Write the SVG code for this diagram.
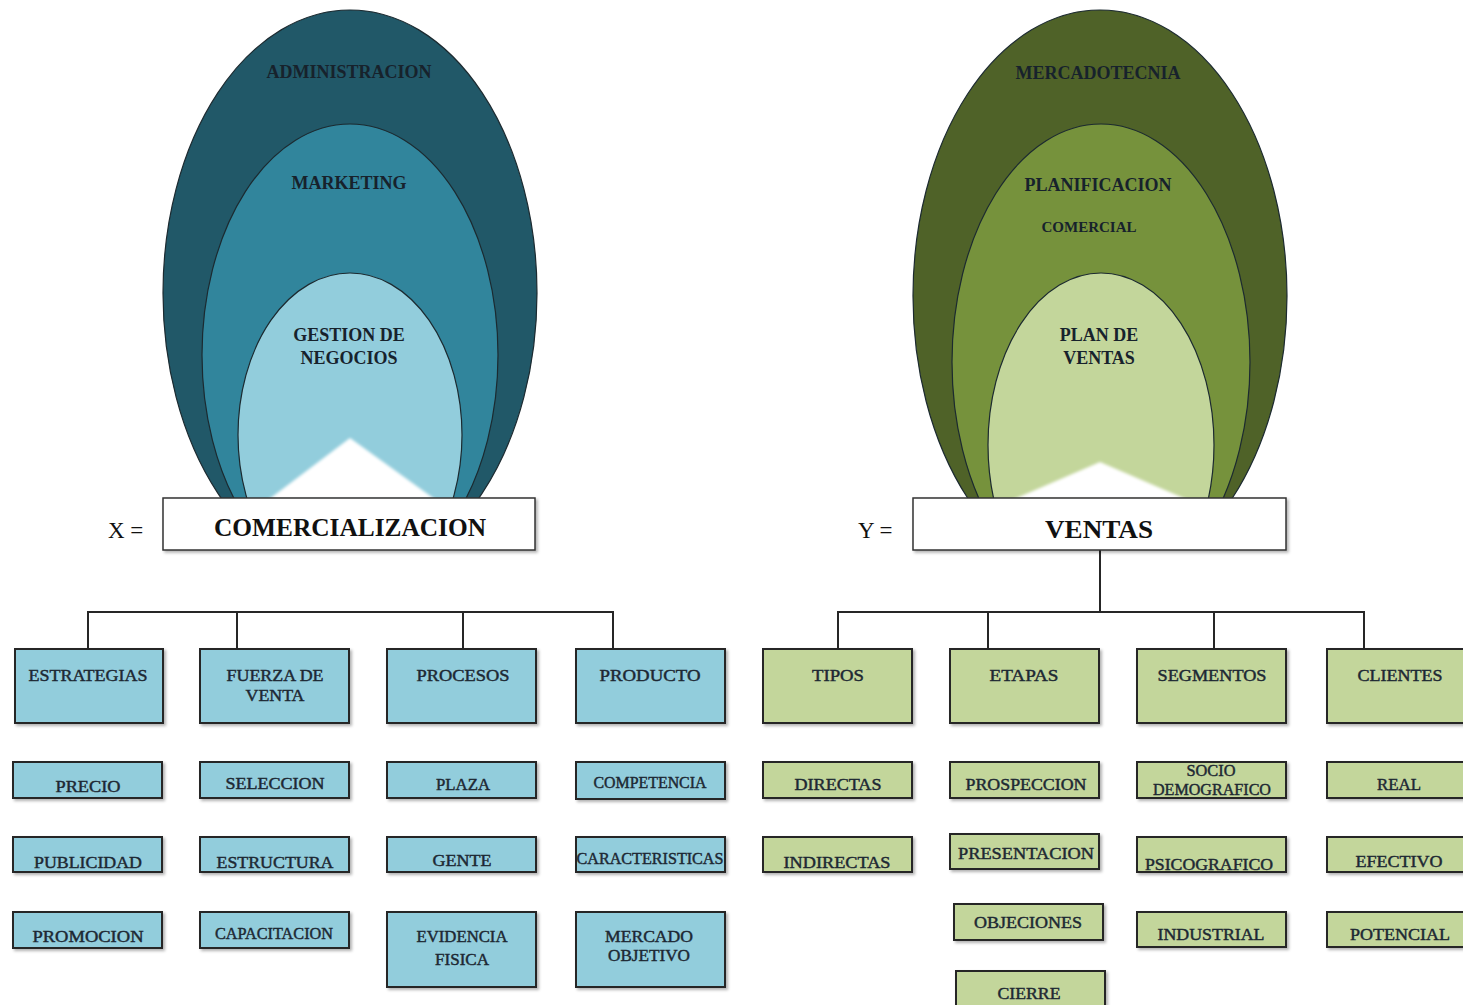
<svg xmlns="http://www.w3.org/2000/svg" width="1463" height="1005" viewBox="0 0 1463 1005">
  <defs>
    <style>
      .lb { font-family: "Liberation Serif", serif; font-size: 17px; fill: #1d2833; stroke: #1d2833; stroke-width: 0.45; text-anchor: middle; }
      .ov { font-family: "Liberation Serif", serif; font-size: 18px; font-weight: bold; fill: #17222c; text-anchor: middle; }
      .main { font-family: "Liberation Serif", serif; font-size: 25px; font-weight: bold; fill: #111; text-anchor: middle; }
      .eq { font-family: "Liberation Serif", serif; font-size: 23px; fill: #111; }
      .bb { fill: #92cddc; stroke: #262626; stroke-width: 2; filter: url(#sh); }
      .bg { fill: #c3d69b; stroke: #262626; stroke-width: 2; filter: url(#sh); }
      .bw { fill: #ffffff; stroke: #333; stroke-width: 1.5; filter: url(#sh); }
      .el { stroke: #1c2a30; stroke-width: 1.2; }
      .cn { fill: none; stroke: #262626; stroke-width: 2; }
    </style>
    <filter id="sh" x="-10%" y="-20%" width="130%" height="150%">
      <feDropShadow dx="2" dy="2" stdDeviation="1.5" flood-color="#000" flood-opacity="0.3"/>
    </filter>
    <filter id="soft" x="-20%" y="-20%" width="140%" height="140%">
      <feGaussianBlur stdDeviation="1.5"/>
    </filter>
    <clipPath id="clipL"><rect x="0" y="0" width="730" height="499"/></clipPath>
    <clipPath id="clipR"><rect x="730" y="0" width="733" height="499"/></clipPath>
  </defs>

  <rect width="1463" height="1005" fill="#ffffff"/>

  <!-- Left nested ovals -->
  <g id="ovals-x" clip-path="url(#clipL)">
    <ellipse class="el" cx="350" cy="293" rx="187" ry="283" fill="#215868"/>
    <ellipse class="el" cx="350" cy="355" rx="148" ry="231" fill="#31859c"/>
    <ellipse class="el" cx="350" cy="435" rx="112" ry="162" fill="#92cddc"/>
    <polygon points="268,500 350,438 436,500" fill="#ffffff" filter="url(#soft)"/>
    <text class="ov" x="349" y="78">ADMINISTRACION</text>
    <text class="ov" x="349" y="189">MARKETING</text>
    <text class="ov" x="349" y="341">GESTION DE</text>
    <text class="ov" x="349" y="364">NEGOCIOS</text>
  </g>

  <!-- Right nested ovals -->
  <g id="ovals-y" clip-path="url(#clipR)">
    <ellipse class="el" cx="1100" cy="296" rx="187" ry="286" fill="#4f6228"/>
    <ellipse class="el" cx="1101" cy="362" rx="149" ry="238" fill="#76923c"/>
    <ellipse class="el" cx="1101" cy="445" rx="113" ry="172" fill="#c3d69b"/>
    <polygon points="1012,500 1100,462 1188,500" fill="#ffffff" filter="url(#soft)"/>
    <text class="ov" x="1098" y="79">MERCADOTECNIA</text>
    <text class="ov" x="1098" y="191">PLANIFICACION</text>
    <text class="ov" x="1089" y="232" style="font-size:15px">COMERCIAL</text>
    <text class="ov" x="1099" y="341">PLAN DE</text>
    <text class="ov" x="1099" y="364">VENTAS</text>
  </g>

  <!-- Connectors -->
  <g id="connectors">
    <path class="cn" d="M88,648 V612 H613 V648 M237,612 V648 M463,612 V648"/>
    <path class="cn" d="M1100,550 V612 M838,648 V612 H1364 V648 M988,612 V648 M1214,612 V648"/>
  </g>

  <!-- Main boxes -->
  <g id="comercializacion">
    <text class="eq" x="108" y="538">X =</text>
    <rect class="bw" x="163" y="498" width="372" height="52"/>
    <text class="main" x="350" y="536" textLength="272" lengthAdjust="spacingAndGlyphs">COMERCIALIZACION</text>
  </g>
  <g id="ventas">
    <text class="eq" x="858" y="538">Y =</text>
    <rect class="bw" x="913" y="498" width="373" height="52"/>
    <text class="main" x="1099" y="538" textLength="108" lengthAdjust="spacingAndGlyphs">VENTAS</text>
  </g>

  <!-- Left branch -->
  <g id="estrategias"><rect class="bb" x="15" y="649" width="148" height="74"/><text class="lb" x="88" y="681" textLength="119" lengthAdjust="spacingAndGlyphs">ESTRATEGIAS</text></g>
  <g id="fuerza-de-venta"><rect class="bb" x="200" y="649" width="149" height="74"/><text class="lb" x="275" y="681" textLength="97" lengthAdjust="spacingAndGlyphs">FUERZA DE</text><text class="lb" x="275" y="701" textLength="59" lengthAdjust="spacingAndGlyphs">VENTA</text></g>
  <g id="procesos"><rect class="bb" x="387" y="649" width="149" height="74"/><text class="lb" x="463" y="681" textLength="93" lengthAdjust="spacingAndGlyphs">PROCESOS</text></g>
  <g id="producto"><rect class="bb" x="576" y="649" width="149" height="74"/><text class="lb" x="650" y="681" textLength="101" lengthAdjust="spacingAndGlyphs">PRODUCTO</text></g>

  <g id="precio"><rect class="bb" x="13" y="762" width="149" height="36"/><text class="lb" x="88" y="792" textLength="65" lengthAdjust="spacingAndGlyphs">PRECIO</text></g>
  <g id="seleccion"><rect class="bb" x="200" y="762" width="149" height="36"/><text class="lb" x="275" y="789" textLength="99" lengthAdjust="spacingAndGlyphs">SELECCION</text></g>
  <g id="plaza"><rect class="bb" x="387" y="762" width="149" height="36"/><text class="lb" x="463" y="790" textLength="54" lengthAdjust="spacingAndGlyphs">PLAZA</text></g>
  <g id="competencia"><rect class="bb" x="576" y="762" width="149" height="37"/><text class="lb" x="650" y="788" textLength="113" lengthAdjust="spacingAndGlyphs">COMPETENCIA</text></g>

  <g id="publicidad"><rect class="bb" x="13" y="837" width="149" height="35"/><text class="lb" x="88" y="868" textLength="108" lengthAdjust="spacingAndGlyphs">PUBLICIDAD</text></g>
  <g id="estructura"><rect class="bb" x="200" y="837" width="149" height="35"/><text class="lb" x="275" y="868" textLength="117" lengthAdjust="spacingAndGlyphs">ESTRUCTURA</text></g>
  <g id="gente"><rect class="bb" x="387" y="837" width="149" height="35"/><text class="lb" x="462" y="866" textLength="59" lengthAdjust="spacingAndGlyphs">GENTE</text></g>
  <g id="caracteristicas"><rect class="bb" x="576" y="837" width="149" height="35"/><text class="lb" x="650" y="864" textLength="147" lengthAdjust="spacingAndGlyphs">CARACTERISTICAS</text></g>

  <g id="promocion"><rect class="bb" x="13" y="912" width="149" height="36"/><text class="lb" x="88" y="942" textLength="111" lengthAdjust="spacingAndGlyphs">PROMOCION</text></g>
  <g id="capacitacion"><rect class="bb" x="200" y="912" width="149" height="36"/><text class="lb" x="274" y="939" textLength="118" lengthAdjust="spacingAndGlyphs">CAPACITACION</text></g>
  <g id="evidencia-fisica"><rect class="bb" x="387" y="912" width="149" height="75"/><text class="lb" x="462" y="942" textLength="91" lengthAdjust="spacingAndGlyphs">EVIDENCIA</text><text class="lb" x="462" y="965" textLength="54" lengthAdjust="spacingAndGlyphs">FISICA</text></g>
  <g id="mercado-objetivo"><rect class="bb" x="576" y="912" width="149" height="75"/><text class="lb" x="649" y="942" textLength="88" lengthAdjust="spacingAndGlyphs">MERCADO</text><text class="lb" x="649" y="961" textLength="82" lengthAdjust="spacingAndGlyphs">OBJETIVO</text></g>

  <!-- Right branch -->
  <g id="tipos"><rect class="bg" x="763" y="649" width="149" height="74"/><text class="lb" x="838" y="681" textLength="52" lengthAdjust="spacingAndGlyphs">TIPOS</text></g>
  <g id="etapas"><rect class="bg" x="950" y="649" width="149" height="74"/><text class="lb" x="1024" y="681" textLength="69" lengthAdjust="spacingAndGlyphs">ETAPAS</text></g>
  <g id="segmentos"><rect class="bg" x="1137" y="649" width="149" height="74"/><text class="lb" x="1212" y="681" textLength="109" lengthAdjust="spacingAndGlyphs">SEGMENTOS</text></g>
  <g id="clientes"><rect class="bg" x="1327" y="649" width="149" height="74"/><text class="lb" x="1400" y="681" textLength="85" lengthAdjust="spacingAndGlyphs">CLIENTES</text></g>

  <g id="directas"><rect class="bg" x="763" y="762" width="149" height="36"/><text class="lb" x="838" y="790" textLength="87" lengthAdjust="spacingAndGlyphs">DIRECTAS</text></g>
  <g id="prospeccion"><rect class="bg" x="950" y="762" width="149" height="36"/><text class="lb" x="1026" y="790" textLength="121" lengthAdjust="spacingAndGlyphs">PROSPECCION</text></g>
  <g id="socio-demografico"><rect class="bg" x="1137" y="762" width="149" height="36"/><text class="lb" x="1211" y="776" textLength="49" lengthAdjust="spacingAndGlyphs">SOCIO</text><text class="lb" x="1212" y="795" textLength="118" lengthAdjust="spacingAndGlyphs">DEMOGRAFICO</text></g>
  <g id="real"><rect class="bg" x="1327" y="762" width="149" height="36"/><text class="lb" x="1399" y="790" textLength="44" lengthAdjust="spacingAndGlyphs">REAL</text></g>

  <g id="indirectas"><rect class="bg" x="763" y="837" width="149" height="35"/><text class="lb" x="837" y="868" textLength="107" lengthAdjust="spacingAndGlyphs">INDIRECTAS</text></g>
  <g id="presentacion"><rect class="bg" x="950" y="834" width="149" height="35"/><text class="lb" x="1026" y="859" textLength="136" lengthAdjust="spacingAndGlyphs">PRESENTACION</text></g>
  <g id="psicografico"><rect class="bg" x="1137" y="837" width="149" height="35"/><text class="lb" x="1209" y="870" textLength="128" lengthAdjust="spacingAndGlyphs">PSICOGRAFICO</text></g>
  <g id="efectivo"><rect class="bg" x="1327" y="837" width="149" height="35"/><text class="lb" x="1399" y="867" textLength="87" lengthAdjust="spacingAndGlyphs">EFECTIVO</text></g>

  <g id="objeciones"><rect class="bg" x="954" y="904" width="149" height="36"/><text class="lb" x="1028" y="928" textLength="108" lengthAdjust="spacingAndGlyphs">OBJECIONES</text></g>
  <g id="industrial"><rect class="bg" x="1137" y="912" width="149" height="35"/><text class="lb" x="1211" y="940" textLength="107" lengthAdjust="spacingAndGlyphs">INDUSTRIAL</text></g>
  <g id="potencial"><rect class="bg" x="1327" y="912" width="149" height="35"/><text class="lb" x="1400" y="940" textLength="100" lengthAdjust="spacingAndGlyphs">POTENCIAL</text></g>

  <g id="cierre"><rect class="bg" x="956" y="971" width="149" height="40"/><text class="lb" x="1029" y="999" textLength="63" lengthAdjust="spacingAndGlyphs">CIERRE</text></g>
</svg>
